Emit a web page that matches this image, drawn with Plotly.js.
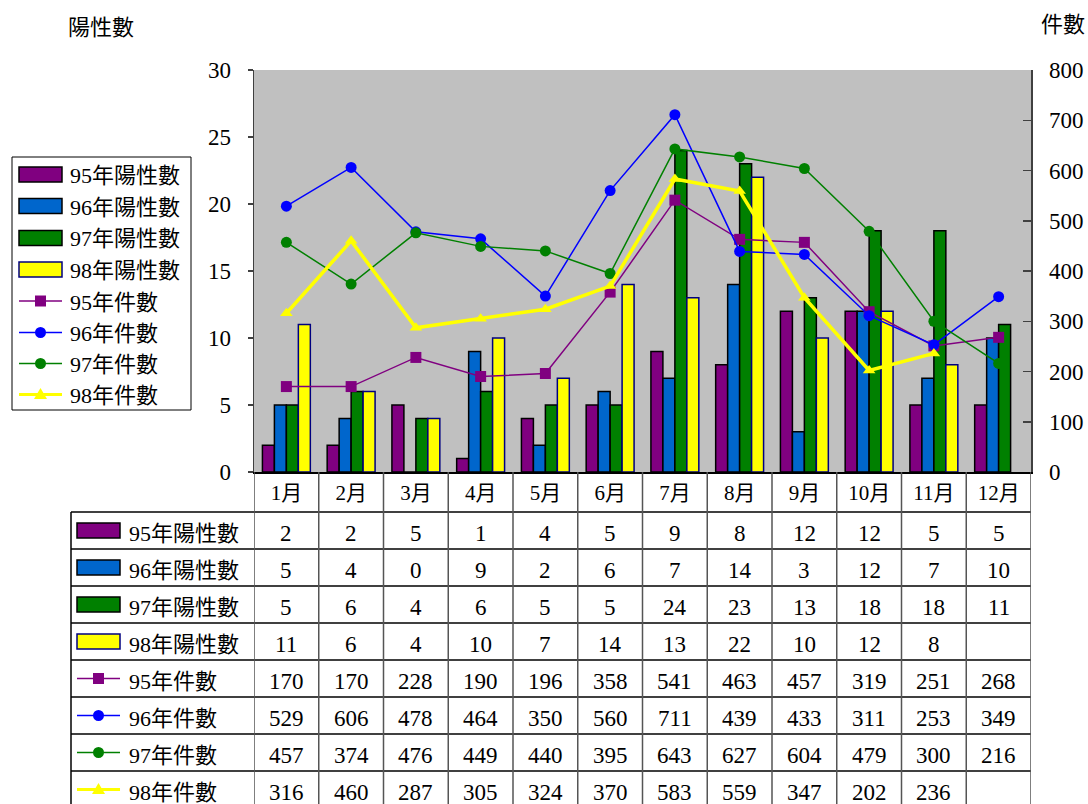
<!DOCTYPE html>
<html>
<head>
<meta charset="utf-8">
<script src="https://cdn.plot.ly/plotly-3.0.1.min.js"></script>
<style>
  html, body { margin: 0; padding: 0; background: #ffffff; }
  #chart { width: 1088px; height: 804px; }
</style>
</head>
<body>
<div id="chart"></div>
<script>
// Monthly categories
const months = ['1月', '2月', '3月', '4月', '5月', '6月', '7月', '8月', '9月', '10月', '11月', '12月'];

// Positive counts (left axis, bars)
const pos95 = [2, 2, 5, 1, 4, 5, 9, 8, 12, 12, 5, 5];
const pos96 = [5, 4, 0, 9, 2, 6, 7, 14, 3, 12, 7, 10];
const pos97 = [5, 6, 4, 6, 5, 5, 24, 23, 13, 18, 18, 11];
const pos98 = [11, 6, 4, 10, 7, 14, 13, 22, 10, 12, 8];

// Case counts (right axis, lines)
const cnt95 = [170, 170, 228, 190, 196, 358, 541, 463, 457, 319, 251, 268];
const cnt96 = [529, 606, 478, 464, 350, 560, 711, 439, 433, 311, 253, 349];
const cnt97 = [457, 374, 476, 449, 440, 395, 643, 627, 604, 479, 300, 216];
const cnt98 = [316, 460, 287, 305, 324, 370, 583, 559, 347, 202, 236];

// Series names
const barNames = ['95年陽性數', '96年陽性數', '97年陽性數', '98年陽性數'];
const lineNames = ['95年件數', '96年件數', '97年件數', '98年件數'];

// ---- layout geometry (pixels) ----
const W = 1088, H = 804;
const PL = 254, PR = 1031, PT = 70, PB = 472;
const TABLE_LEFT = 71, ROW0 = 512, ROW_H = 37;
const FONT = 'Liberation Serif, Noto Sans CJK TC, serif';
const NUM_FONT = 'Liberation Serif';

const px = x => x / W;
const py = y => 1 - y / H;

const barStyles = [
  { color: '#800080', edge: '#000000' },
  { color: '#0066CC', edge: '#000000' },
  { color: '#008000', edge: '#000000' },
  { color: '#FFFF00', edge: '#000080' }
];
const lineStyles = [
  { color: '#800080', width: 1.5, symbol: 'square' },
  { color: '#0000FF', width: 1.5, symbol: 'circle' },
  { color: '#008000', width: 1.5, symbol: 'circle' },
  { color: '#FFFF00', width: 3.5, symbol: 'triangle-up' }
];

const barData = [pos95, pos96, pos97, pos98];
const lineData = [cnt95, cnt96, cnt97, cnt98];

const traces = [];
barData.forEach((vals, i) => {
  traces.push({
    type: 'bar',
    name: barNames[i],
    x: months.slice(0, vals.length),
    y: vals,
    xaxis: 'x', yaxis: 'y',
    marker: { color: barStyles[i].color, line: { color: barStyles[i].edge, width: 1.5 } },
    hoverinfo: 'skip'
  });
});
lineData.forEach((vals, i) => {
  const s = lineStyles[i];
  traces.push({
    type: 'scatter',
    mode: 'lines+markers',
    name: lineNames[i],
    x: months.slice(0, vals.length),
    y: vals,
    xaxis: 'x', yaxis: 'y2',
    line: { color: s.color, width: s.width },
    marker: { color: s.color, size: 11, symbol: s.symbol, line: { width: 0 } },
    cliponaxis: false,
    hoverinfo: 'skip'
  });
});

const shapes = [];
const annotations = [];

// Key glyph: filled bar swatch or line with marker
function addKey(kind, i, x0, x1, yc) {
  if (kind === 'bar') {
    const s = barStyles[i];
    shapes.push({ type: 'rect', xref: 'paper', yref: 'paper',
      x0: px(x0), x1: px(x1), y0: py(yc - 7.5), y1: py(yc + 7.5),
      fillcolor: s.color, line: { color: s.edge, width: 1.5 }, layer: 'above' });
  } else {
    const s = lineStyles[i];
    const xm = (x0 + x1) / 2;
    shapes.push({ type: 'line', xref: 'paper', yref: 'paper',
      x0: px(x0), x1: px(x1), y0: py(yc), y1: py(yc),
      line: { color: s.color, width: s.width === 1.5 ? 1.5 : 3 }, layer: 'above' });
    const r = 5.5;
    if (s.symbol === 'square') {
      shapes.push({ type: 'rect', xref: 'paper', yref: 'paper',
        x0: px(xm - r), x1: px(xm + r), y0: py(yc + r), y1: py(yc - r),
        fillcolor: s.color, line: { width: 0 }, layer: 'above' });
    } else if (s.symbol === 'circle') {
      shapes.push({ type: 'circle', xref: 'paper', yref: 'paper',
        x0: px(xm - r), x1: px(xm + r), y0: py(yc + r), y1: py(yc - r),
        fillcolor: s.color, line: { width: 0 }, layer: 'above' });
    } else {
      const path = 'M ' + px(xm - r - 1) + ' ' + py(yc + r - 1) +
                   ' L ' + px(xm + r + 1) + ' ' + py(yc + r - 1) +
                   ' L ' + px(xm) + ' ' + py(yc - r - 1) + ' Z';
      shapes.push({ type: 'path', xref: 'paper', yref: 'paper', path: path,
        fillcolor: s.color, line: { width: 0 }, layer: 'above' });
    }
  }
}

function addLabel(text, x, yc, size) {
  annotations.push({ xref: 'paper', yref: 'paper', x: px(x), y: py(yc),
    xanchor: 'left', yanchor: 'middle', showarrow: false, text: text,
    font: { family: FONT, size: size || 22, color: '#000000' } });
}

// ---- legend box on the left ----
shapes.push({ type: 'rect', xref: 'paper', yref: 'paper',
  x0: px(12), x1: px(191), y0: py(410), y1: py(157),
  fillcolor: '#ffffff', line: { color: '#000000', width: 1 }, layer: 'above' });
const legendY = [174.5, 206, 238, 269.5, 301, 332.5, 363.5, 394.5];
barNames.forEach((n, i) => { addKey('bar', i, 19, 62, legendY[i]); addLabel(n, 68, legendY[i] + 1); });
lineNames.forEach((n, i) => { addKey('line', i, 19, 62, legendY[i + 4]); addLabel(n, 68, legendY[i + 4] + 1); });

// ---- data table below the plot ----
const tableRows = [
  { kind: 'bar', i: 0, name: barNames[0], vals: pos95 },
  { kind: 'bar', i: 1, name: barNames[1], vals: pos96 },
  { kind: 'bar', i: 2, name: barNames[2], vals: pos97 },
  { kind: 'bar', i: 3, name: barNames[3], vals: pos98 },
  { kind: 'line', i: 0, name: lineNames[0], vals: cnt95 },
  { kind: 'line', i: 1, name: lineNames[1], vals: cnt96 },
  { kind: 'line', i: 2, name: lineNames[2], vals: cnt97 },
  { kind: 'line', i: 3, name: lineNames[3], vals: cnt98 }
];

// horizontal rules
for (let r = 0; r <= tableRows.length; r++) {
  const y = ROW0 + r * ROW_H;
  shapes.push({ type: 'line', xref: 'paper', yref: 'paper',
    x0: px(TABLE_LEFT), x1: px(PR), y0: py(y), y1: py(y),
    line: { color: '#000000', width: 1.5 }, layer: 'above' });
}
// left border of the table
shapes.push({ type: 'line', xref: 'paper', yref: 'paper',
  x0: px(TABLE_LEFT), x1: px(TABLE_LEFT), y0: py(ROW0), y1: py(H + 10),
  line: { color: '#000000', width: 1.5 }, layer: 'above' });
// vertical rules at category boundaries
for (let k = 0; k <= months.length; k++) {
  shapes.push({ type: 'line', xref: 'x', yref: 'paper',
    x0: k - 0.5, x1: k - 0.5, y0: py(PB), y1: py(H + 10),
    line: { color: '#555555', width: 1.5 }, layer: 'above' });
}

tableRows.forEach((row, r) => {
  const yc = ROW0 + r * ROW_H + ROW_H / 2;
  addKey(row.kind, row.i, 77, 120, yc);
  addLabel(row.name, 127, yc + 2.5);
  row.vals.forEach((v, j) => {
    annotations.push({ xref: 'x', yref: 'paper', x: months[j], y: py(yc + 3),
      xanchor: 'center', yanchor: 'middle', showarrow: false, text: String(v),
      font: { family: NUM_FONT, size: 23, color: '#000000' } });
  });
});

// axis captions
annotations.push({ xref: 'paper', yref: 'paper', x: px(101), y: py(28),
  xanchor: 'center', yanchor: 'middle', showarrow: false, text: '陽性數',
  font: { family: FONT, size: 22, color: '#000000' } });
annotations.push({ xref: 'paper', yref: 'paper', x: px(1063), y: py(25),
  xanchor: 'center', yanchor: 'middle', showarrow: false, text: '件數',
  font: { family: FONT, size: 22, color: '#000000' } });

const layout = {
  width: W, height: H,
  margin: { l: 0, r: 0, t: 0, b: 0 },
  paper_bgcolor: '#ffffff',
  plot_bgcolor: '#C0C0C0',
  showlegend: false,
  barmode: 'group',
  bargap: 0.26,
  bargroupgap: 0,
  font: { family: NUM_FONT, size: 21, color: '#000000' },
  xaxis: {
    type: 'category',
    domain: [px(PL), px(PR)],
    range: [-0.5, months.length - 0.5],
    showline: true, linecolor: '#000000', linewidth: 1.5,
    ticks: '', showgrid: false, zeroline: false,
    tickfont: { family: FONT, size: 21, color: '#000000' },
    ticklabelstandoff: 1,
    fixedrange: true
  },
  yaxis: {
    domain: [py(PB), py(PT)],
    range: [0, 30], dtick: 5,
    showline: true, linecolor: '#404040', linewidth: 1.5,
    ticks: 'outside', ticklen: 5, tickcolor: '#404040', tickwidth: 1.5,
    ticklabelstandoff: 12,
    showgrid: false, zeroline: false,
    tickfont: { family: NUM_FONT, size: 23, color: '#000000' },
    fixedrange: true
  },
  yaxis2: {
    overlaying: 'y', side: 'right', anchor: 'x',
    range: [0, 800], dtick: 100,
    showline: true, linecolor: '#404040', linewidth: 1.5,
    ticks: 'inside', ticklen: 8, tickcolor: '#404040', tickwidth: 1.5,
    ticklabelstandoff: 12,
    showgrid: false, zeroline: false,
    tickfont: { family: NUM_FONT, size: 23, color: '#000000' },
    fixedrange: true
  },
  shapes: shapes,
  annotations: annotations
};

Plotly.newPlot('chart', traces, layout, { displayModeBar: false, staticPlot: true });
</script>
</body>
</html>
